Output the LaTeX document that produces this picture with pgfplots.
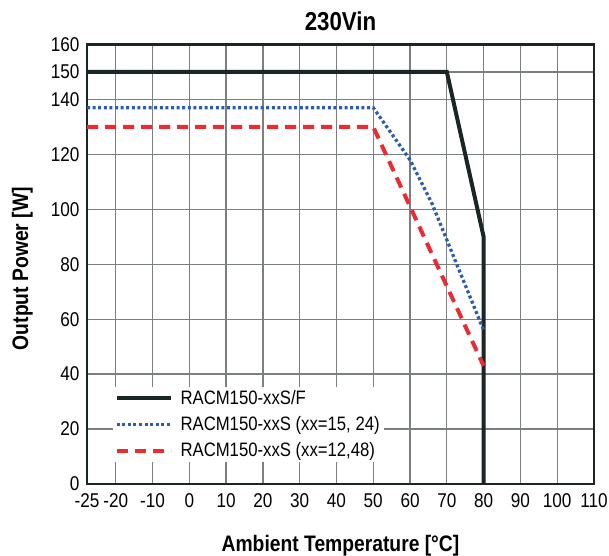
\documentclass[border=0pt]{standalone}
\usepackage{fontspec}
\setmainfont{Liberation Sans}[FakeStretch=0.86]
\usepackage{pgfplots}
\pgfplotsset{compat=1.18}
\definecolor{axisdark}{HTML}{1A2626}
\definecolor{gridgray}{HTML}{7A7F7F}
\definecolor{blueline}{HTML}{2B5DAB}
\definecolor{redline}{HTML}{EC2A32}

\begin{document}
\begin{tikzpicture}
\begin{axis}[
  at={(87bp,72bp)}, anchor=south west,
  scale only axis, width=507bp, height=439.5bp,
  xmin=-27.8, xmax=110, ymin=0, ymax=160,
  xtick={-27.8,-20,-10,0,10,20,30,40,50,60,70,80,90,100,110},
  xticklabels={-25,-20,-10,0,10,20,30,40,50,60,70,80,90,100,110},
  ytick={0,20,40,60,80,100,120,140,150,160},
  /pgf/number format/assume math mode=true,
  grid=major,
  major grid style={gridgray, line width=1.3bp},
  axis line style={axisdark, line width=2.6bp},
  tick style={draw=none},
  ticklabel style={font=\fontsize{20}{22}\selectfont},
  xticklabel style={yshift=-6bp},
  yticklabel style={xshift=-4bp},
  title={\textbf{230Vin}},
  title style={font=\fontsize{26}{30}\selectfont, at={(axis description cs:0.5,1)}, anchor=base, yshift=8bp},
  xlabel={\textbf{Ambient Temperature [°C]}},
  xlabel style={font=\fontsize{22.5}{26}\selectfont, at={(axis description cs:0.5,0)}, anchor=base, yshift=-67bp},
  ylabel={\textbf{Output Power [W]}},
  ylabel style={font=\fontsize{22.5}{26}\selectfont, at={(axis description cs:0,0.49)}, anchor=base, yshift=59bp},
  legend style={at={(axis description cs:0.05,0.222)}, anchor=north west, fill=white, draw=none,
    font=\fontsize{19.5}{21}\selectfont, row sep=6.5bp, inner sep=2bp},
  legend cell align=left,
  legend image code/.code={\draw[#1] (0bp,0bp) -- (54bp,0bp); \path (60bp,0bp);},
]
\addplot[axisdark, line width=4bp, line join=miter] coordinates {
  (-27.8,150) (70,150) (80,90) (80,0)
};
\addlegendentry{RACM150-xxS/F}
\addplot[blueline, line width=3.3bp, dash pattern=on 3bp off 2.6bp] coordinates {
  (-27.8,137) (50,137) (60,118) (66,102) (80,56)
};
\addlegendentry{RACM150-xxS (xx=15, 24)}
\addplot[redline, line width=4bp, dash pattern=on 11bp off 7bp] coordinates {
  (-27.8,130) (50,130) (80,43)
};
\addlegendentry{RACM150-xxS (xx=12,48)}
\end{axis}
\pgfresetboundingbox
\path (0,0) rectangle (609bp,556bp);
\end{tikzpicture}
\end{document}
